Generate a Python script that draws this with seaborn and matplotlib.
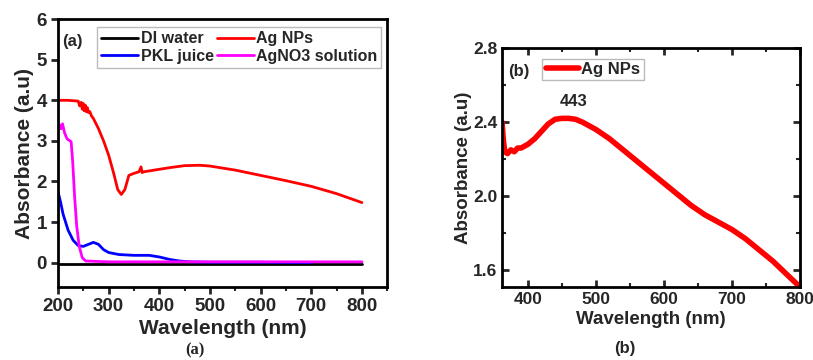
import numpy as np
import pandas as pd
import matplotlib.pyplot as plt
import seaborn as sns
from matplotlib.ticker import MultipleLocator
from matplotlib.lines import Line2D

# (a) UV-vis spectra
di_nm = [200, 300, 400, 500, 600, 700, 800]
di_abs = [-0.03, -0.03, -0.03, -0.03, -0.03, -0.03, -0.03]

agnp_nm = [200, 220, 240, 243, 246, 248, 250, 252, 254, 256, 258, 260, 263, 266, 270, 280,
           290, 300, 310, 318, 325, 332, 340, 350, 360, 364, 366, 370, 380, 400, 420, 450,
           480, 500, 550, 600, 650, 700, 750, 800]
agnp_abs = [4.0, 4.0, 3.98, 3.86, 3.95, 3.78, 3.92, 3.74, 3.88, 3.72, 3.82, 3.7, 3.72, 3.62, 3.55, 3.3,
            3.0, 2.65, 2.2, 1.8, 1.68, 1.8, 2.15, 2.2, 2.24, 2.36, 2.22, 2.24, 2.26, 2.3, 2.34, 2.39,
            2.4, 2.38, 2.28, 2.15, 2.02, 1.88, 1.7, 1.48]

pkl_nm = [200, 205, 210, 215, 220, 230, 240, 250, 260, 270, 280, 290, 300, 320, 350, 380,
          400, 420, 440, 460, 500, 600, 700]
pkl_abs = [1.75, 1.5, 1.2, 1.0, 0.8, 0.55, 0.42, 0.4, 0.45, 0.5, 0.45, 0.32, 0.25, 0.2, 0.18, 0.18,
           0.14, 0.08, 0.04, 0.02, 0.01, 0.01, 0.0]

agno3_nm = [200, 203, 206, 209, 213, 218, 226, 229, 233, 237, 242, 248, 255, 300, 500, 800]
agno3_abs = [3.25, 3.4, 3.3, 3.42, 3.2, 3.05, 2.98, 2.5, 1.6, 0.9, 0.4, 0.12, 0.04, 0.02, 0.02, 0.02]

# (b) Ag NPs zoomed spectrum
b_nm = [362, 364, 366, 370, 375, 380, 385, 390, 400, 410, 420, 430, 440, 450, 460, 470, 480,
        500, 520, 540, 560, 580, 600, 620, 640, 660, 680, 700, 720, 740, 760, 780, 800]
b_abs = [2.40, 2.30, 2.24, 2.23, 2.25, 2.24, 2.26, 2.26, 2.28, 2.31, 2.35, 2.39, 2.415, 2.42, 2.42,
         2.415, 2.40, 2.36, 2.31, 2.25, 2.19, 2.13, 2.07, 2.01, 1.95, 1.90, 1.86, 1.82, 1.77, 1.71,
         1.65, 1.58, 1.51]

sns.set_theme(style="ticks")
plt.rcParams['font.family'] = ['Liberation Sans', 'DejaVu Sans']
plt.rcParams['font.weight'] = 'bold'
plt.rcParams['axes.labelweight'] = 'bold'

fig = plt.figure(figsize=(8.13, 3.6), dpi=100)
ax1 = fig.add_axes([0.0713, 0.2028, 0.405, 0.744])
ax2 = fig.add_axes([0.6175, 0.2028, 0.3665, 0.664])

frames = []
for name, nm, ab in [('DI water', di_nm, di_abs), ('Ag NPs', agnp_nm, agnp_abs),
                     ('PKL juice', pkl_nm, pkl_abs), ('AgNO3 solution', agno3_nm, agno3_abs)]:
    frames.append(pd.DataFrame({'nm': nm, 'abs': ab, 'sample': name}))
df_a = pd.concat(frames, ignore_index=True)

colors = {'DI water': 'black', 'Ag NPs': '#ff0000', 'PKL juice': '#0000ff', 'AgNO3 solution': '#ff00ff'}
sns.lineplot(data=df_a, x='nm', y='abs', hue='sample', palette=colors, sort=False,
             estimator=None, linewidth=2, ax=ax1, legend=False)

ax1.set_xticks(range(200, 900, 100))
ax1.xaxis.set_minor_locator(MultipleLocator(50))
ax1.yaxis.set_major_locator(MultipleLocator(1))
ax1.set_xlim(200, 850)
ax1.set_ylim(-0.6, 6)
ax1.tick_params(axis='both', which='major', direction='out', length=5, width=2, labelsize=13.5, pad=3)
ax1.tick_params(axis='both', which='minor', direction='out', length=3, width=1.5)
ax1.set_xlabel('Wavelength (nm)', fontsize=15, fontweight='bold', labelpad=3)
ax1.set_ylabel('Absorbance (a.u)', fontsize=15, fontweight='bold', labelpad=2)
for s in ax1.spines.values():
    s.set_linewidth(2)
    s.set_color('black')

order = ['DI water', 'PKL juice', 'Ag NPs', 'AgNO3 solution']
handles = [Line2D([], [], color=colors[k], lw=2) for k in order]
leg = ax1.legend(handles, order, ncol=2, loc='upper left', bbox_to_anchor=(0.12, 0.97),
                 fontsize=11.5, frameon=True, fancybox=False, handlelength=2.3,
                 handletextpad=0.15, columnspacing=0.2, labelspacing=0.15, borderpad=0.25,
                 borderaxespad=0)
leg.get_frame().set_edgecolor('#aaaaaa')
leg.get_frame().set_linewidth(1)
ax1.text(0.012, 0.915, '(a)', transform=ax1.transAxes, fontsize=12, fontweight='bold',
         va='center', ha='left')

# panel (b)
df_b = pd.DataFrame({'nm': b_nm, 'abs': b_abs})
sns.lineplot(data=df_b, x='nm', y='abs', color='#ff0000', linewidth=4, ax=ax2,
             label='Ag NPs', sort=False, estimator=None)
ax2.set_xlim(362, 800)
ax2.set_ylim(1.51, 2.8)
ax2.xaxis.set_major_locator(MultipleLocator(100))
ax2.xaxis.set_minor_locator(MultipleLocator(50))
ax2.yaxis.set_major_locator(MultipleLocator(0.4))
ax2.yaxis.set_minor_locator(MultipleLocator(0.2))
ax2.yaxis.set_major_formatter(plt.FormatStrFormatter('%.1f'))
ax2.tick_params(axis='both', which='major', direction='in', length=5, width=2, labelsize=12.5,
                top=True, right=True)
ax2.tick_params(axis='both', which='minor', direction='in', length=3, width=1.5,
                top=True, right=True)
ax2.set_xlabel('Wavelength (nm)', fontsize=13.5, fontweight='bold', labelpad=3)
ax2.set_ylabel('Absorbance (a.u)', fontsize=13.5, fontweight='bold', labelpad=1)
for s in ax2.spines.values():
    s.set_linewidth(2)
    s.set_color('black')
leg2 = ax2.legend(loc='upper left', bbox_to_anchor=(0.135, 0.955), fontsize=12, frameon=True,
                  fancybox=False, handlelength=2.0, handletextpad=0.15, borderpad=0.2,
                  borderaxespad=0)
leg2.get_frame().set_edgecolor('#aaaaaa')
leg2.get_frame().set_linewidth(1)
ax2.text(0.02, 0.9, '(b)', transform=ax2.transAxes, fontsize=12, fontweight='bold',
         va='center', ha='left')
ax2.text(467, 2.51, '443', fontsize=12, fontweight='bold', ha='center', va='center')

fig.text(195 / 813, 1 - 350 / 360, '(a)', family=['Liberation Serif', 'DejaVu Serif'],
         fontsize=12, fontweight='bold', ha='center', va='center')
fig.text(625 / 813, 1 - 349 / 360, '(b)', fontsize=12, fontweight='bold', ha='center', va='center')

fig.savefig('out.png', dpi=100)
